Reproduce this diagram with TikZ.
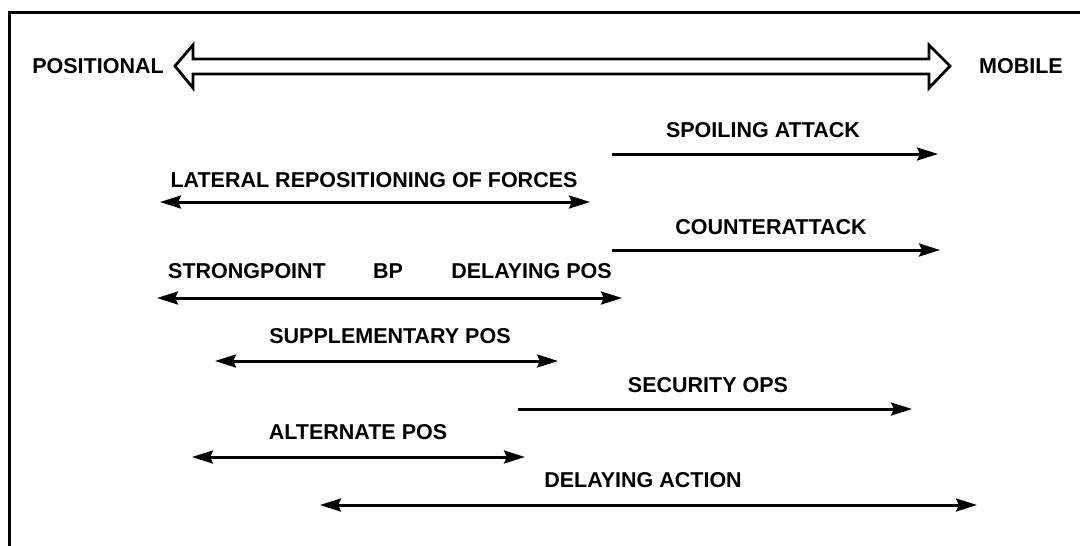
\documentclass[tikz,border=0pt]{standalone}
\usepackage{fontspec}
\setmainfont{Liberation Sans}
\usetikzlibrary{arrows.meta}
\tikzset{
  lbl/.style={font=\fontsize{21.5}{24}\selectfont\bfseries, inner sep=0pt, anchor=center},
  tip/.style={},
  rng/.style={line width=3pt, -{Stealth[length=21pt,width=13pt,inset=3pt]}},
  rngboth/.style={line width=3pt, {Stealth[length=21pt,width=13pt,inset=3pt]}-{Stealth[length=21pt,width=13pt,inset=3pt]}},
  frame/.style={line width=3pt},
  bigarrow/.style={line width=2.8pt, line join=miter}
}
\begin{document}
\begin{tikzpicture}[x=1pt,y=-1pt]
\useasboundingbox (0,0) rectangle (1080,546);
% frame
\coordinate (fbl) at (9,546);
\coordinate (ftl) at (9,12);
\coordinate (ftr) at (1080,12);
\draw[frame] (fbl) -- (ftl) -- (ftr);
% big double arrow
\draw[bigarrow] (193,59) -- (193,45) -- (175,66) -- (193,88) -- (193,74) -- (929,74) -- (929,88) -- (950,66) -- (929,45) -- (929,59) -- cycle;
\node[lbl] (pos) at (98,66) {POSITIONAL};
\node[lbl] (mob) at (1021,66) {MOBILE};
% spoiling attack
\node[lbl] (spo) at (763,130) {SPOILING ATTACK};
\coordinate (spoA) at (612,154); \coordinate (spoB) at (938,154);
\draw[rng] (spoA) -- (spoB);
% lateral repositioning
\node[lbl] (lat) at (374,180) {LATERAL REPOSITIONING OF FORCES};
\coordinate (latA) at (160,202); \coordinate (latB) at (590,202);
\draw[rngboth] (latA) -- (latB);
% counterattack
\node[lbl] (cnt) at (771,227) {COUNTERATTACK};
\coordinate (cntA) at (612,250); \coordinate (cntB) at (940,250);
\draw[rng] (cntA) -- (cntB);
% strongpoint / bp / delaying pos
\node[lbl, anchor=west] (stp) at (168,271) {STRONGPOINT};
\node[lbl] (bp) at (388,271) {BP};
\node[lbl, anchor=east] (dlp) at (612,271) {DELAYING POS};
\coordinate (stpA) at (157,298); \coordinate (stpB) at (622,298);
\draw[rngboth] (stpA) -- (stpB);
% supplementary pos
\node[lbl] (sup) at (390,336) {SUPPLEMENTARY POS};
\coordinate (supA) at (215,361); \coordinate (supB) at (558,361);
\draw[rngboth] (supA) -- (supB);
% security ops
\node[lbl] (sec) at (708,385) {SECURITY OPS};
\coordinate (secA) at (518,409); \coordinate (secB) at (912,409);
\draw[rng] (secA) -- (secB);
% alternate pos
\node[lbl] (alt) at (358,432) {ALTERNATE POS};
\coordinate (altA) at (192,457); \coordinate (altB) at (525,457);
\draw[rngboth] (altA) -- (altB);
% delaying action
\node[lbl] (dla) at (643,480) {DELAYING ACTION};
\coordinate (dlaA) at (320,505); \coordinate (dlaB) at (977,505);
\draw[rngboth] (dlaA) -- (dlaB);
\end{tikzpicture}
\end{document}
